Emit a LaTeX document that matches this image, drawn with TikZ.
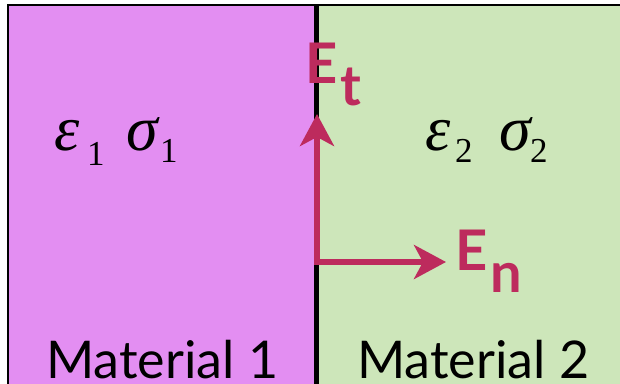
\documentclass[tikz,border=0pt]{standalone}
\usepackage{fontspec}
\setmainfont{Lato}
\newfontfamily\greekfont{Liberation Serif}
\usetikzlibrary{arrows.meta}
\definecolor{matA}{HTML}{E38EF2}
\definecolor{matB}{HTML}{CDE6BA}
\definecolor{fieldc}{HTML}{BD2B5D}
\tikzset{
  vecarrow/.style={draw=fieldc, line width=5.5pt, -{Stealth[length=32pt,width=34pt,inset=9pt]}},
  veclabel/.style={text=fieldc, font=\fontsize{56}{56}\selectfont\bfseries, anchor=base west, inner sep=0pt},
  greeklabel/.style={font=\greekfont\fontsize{64}{64}\selectfont\itshape, anchor=base west, inner sep=0pt},
  matlabel/.style={font=\fontsize{52}{52}\selectfont, anchor=base west, inner sep=0pt},
  subnum/.style={font=\greekfont\fontsize{35}{35}\selectfont, anchor=base west, inner sep=0pt}
}
\begin{document}
\begin{tikzpicture}[x=1pt,y=-1pt]
\useasboundingbox (0,0) rectangle (620,383);
\fill[matA] (8,5) rectangle (317,390);
\fill[matB] (317,5) rectangle (630,390);
\draw[line width=2.5pt] (8,390) -- (8,5) -- (630,5);
\draw[line width=5pt] (316.5,5) -- (316.5,390);
% field vectors
\coordinate (o) at (317,262);
\coordinate (tt) at (317,114);
\coordinate (tn) at (446,262);
\draw[vecarrow] ([yshift=-2.75pt]o) -- (tt);
\draw[vecarrow] (o) -- (tn);
\node[veclabel] (et) at (305,83) {E\hspace{3pt}\raisebox{-22pt}{t}};
\node[veclabel] (en) at (455,270) {E\hspace{3pt}\raisebox{-22pt}{n}};
% material constants
\node[greeklabel] (eps1) at (54,150) {ε};
\node[subnum] (eps1s) at (87,165) {1};
\node[greeklabel] (sig1) at (126,150) {σ};
\node[subnum] (sig1s) at (160,162) {1};
\node[greeklabel] (eps2) at (425,150) {ε};
\node[subnum] (eps2s) at (455,162) {2};
\node[greeklabel] (sig2) at (499,150) {σ};
\node[subnum] (sig2s) at (530,162) {2};
% material names
\node[matlabel] (m1) at (46,378) {Material 1};
\node[matlabel] (m2) at (357,378) {Material 2};
\end{tikzpicture}
\end{document}
